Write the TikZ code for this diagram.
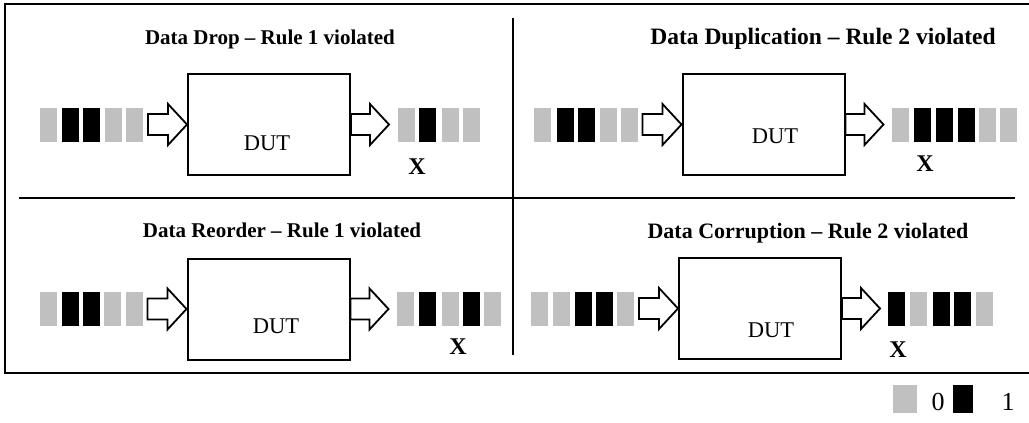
\documentclass[tikz,border=0pt]{standalone}
\usepackage{fontspec}
\setmainfont{Liberation Serif}
\definecolor{zerogray}{HTML}{C0C0C0}

\tikzset{
  bitbox/.style={draw=none, inner sep=0pt, minimum width=17pt, minimum height=34pt, anchor=west},
  zero/.style={bitbox, fill=zerogray},
  one/.style={bitbox, fill=black},
  dut/.style={draw, line width=2pt, minimum width=162pt, minimum height=101pt, inner sep=0pt},
  flow/.style={draw, line width=1.8pt, fill=white, line join=miter},
  divider/.style={line width=1.3pt},
  frameline/.style={line width=2.6pt},
  title/.style={font=\bfseries\fontsize{21}{21}\selectfont, anchor=base, inner sep=0pt},
  bigtitle/.style={title, font=\bfseries\fontsize{23.5}{23.5}\selectfont},
  dutlabel/.style={font=\fontsize{22.5}{22.5}\selectfont, anchor=base, inner sep=0pt},
  faultmark/.style={font=\bfseries\fontsize{24}{24}\selectfont, anchor=base, inner sep=0pt},
  legendtext/.style={font=\fontsize{26}{26}\selectfont, anchor=base, inner sep=0pt},
}

% hollow block arrow into a box: tip on the given anchor
\newcommand\inarrow[1]{%
  \draw[flow, shift={(#1)}] (-39,-10.5) -- (-19,-10.5) -- (-19,-20.5) -- (0,0)
    -- (-19,20.5) -- (-19,10.5) -- (-39,10.5) -- cycle;}
% hollow block arrow out of a box: tail on the given anchor
\newcommand\outarrow[1]{%
  \draw[flow, shift={(#1)}] (0,-10.5) -- (19,-10.5) -- (19,-20.5) -- (38,0)
    -- (19,20.5) -- (19,10.5) -- (0,10.5) -- cycle;}

\begin{document}
\begin{tikzpicture}[x=1pt, y=-1pt]
\useasboundingbox (0,0) rectangle (1029,423);

% outer frame (open to the right) and quadrant dividers
\draw[frameline] (1031,4) -- (5,4) -- (5,373) -- (1031,373);
\draw[divider] (513,18) -- (513,355);
\draw[divider] (19,198) -- (1015,198);

% ---------- Data Drop ----------
\node[title] (t1) at (270,45) {Data Drop – Rule 1 violated};
\node[dut] (d1) at (269,124.5) {};
\node[dutlabel] (l1) at (267,150) {DUT};
\foreach \x/\s [count=\i] in {40/zero,62/one,83/one,105/zero,126/zero}
  \node[\s] (a-in\i) at (\x,124.5) {};
\foreach \x/\s [count=\i] in {398/zero,419/one,442/zero,463/zero}
  \node[\s] (a-out\i) at (\x,124.5) {};
\inarrow{d1.west}
\outarrow{d1.east}
\node[faultmark] (x1) at (417,174) {X};

% ---------- Data Duplication ----------
\node[bigtitle] (t2) at (823,45) {Data Duplication – Rule 2 violated};
\node[dut] (d2) at (763.5,124.5) {};
\node[dutlabel] (l2) at (775,143) {DUT};
\foreach \x/\s [count=\i] in {534/zero,557/one,578/one,600/zero,621/zero}
  \node[\s] (b-in\i) at (\x,124.5) {};
\foreach \x/\s [count=\i] in {892/zero,914/one,936/one,958/one,979/zero,1000/zero}
  \node[\s] (b-out\i) at (\x,124.5) {};
\inarrow{d2.west}
\outarrow{d2.east}
\node[faultmark] (x2) at (925,171) {X};

% ---------- Data Reorder ----------
\node[title] (t3) at (282,237) {Data Reorder – Rule 1 violated};
\node[dut] (d3) at (268.5,309) {};
\node[dutlabel] (l3) at (276,333) {DUT};
\foreach \x/\s [count=\i] in {40/zero,62/one,83/one,104/zero,126/zero}
  \node[\s] (c-in\i) at (\x,309) {};
\foreach \x/\s [count=\i] in {397/zero,419/one,442/zero,463/one,484/zero}
  \node[\s] (c-out\i) at (\x,309) {};
\inarrow{d3.west}
\outarrow{d3.east}
\node[faultmark] (x3) at (458,354) {X};

% ---------- Data Corruption ----------
\node[title, font=\bfseries\fontsize{22}{22}\selectfont] (t4) at (808,238) {Data Corruption – Rule 2 violated};
\node[dut] (d4) at (760,308.5) {};
\node[dutlabel] (l4) at (771,337) {DUT};
\foreach \x/\s [count=\i] in {531/zero,553/zero,575/one,596/one,617/zero}
  \node[\s] (d-in\i) at (\x,308.5) {};
\foreach \x/\s [count=\i] in {888/one,910/zero,933/one,954/one,976/zero}
  \node[\s] (d-out\i) at (\x,308.5) {};
\inarrow{d4.west}
\outarrow{d4.east}
\node[faultmark] (x4) at (898,357) {X};

% ---------- legend ----------
\node[zero, minimum width=24pt, minimum height=28pt] (k0) at (893,399) {};
\node[legendtext] (v0) at (938,410) {0};
\node[one, minimum width=20pt, minimum height=28pt] (k1) at (953,399) {};
\node[legendtext] (v1) at (1008,410) {1};
\end{tikzpicture}
\end{document}
